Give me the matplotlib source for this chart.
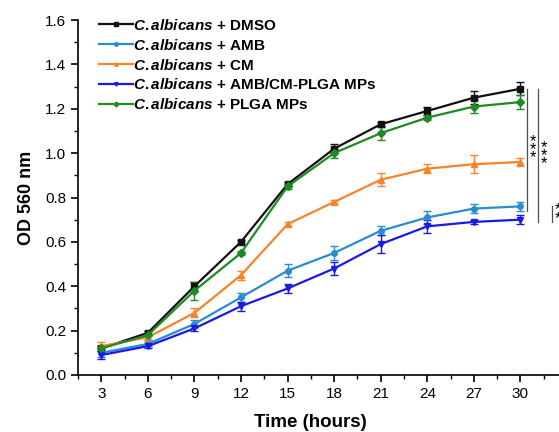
"""Growth curves of C. albicans under different treatments."""

import matplotlib

matplotlib.use("Agg")
import matplotlib.pyplot as plt
from matplotlib.lines import Line2D
from matplotlib.ticker import FormatStrFormatter, MultipleLocator

plt.rcParams["font.family"] = ["Liberation Sans", "DejaVu Sans"]
plt.rcParams["mathtext.fontset"] = "custom"
plt.rcParams["mathtext.it"] = "Liberation Sans:italic:bold"
plt.rcParams["mathtext.rm"] = "Liberation Sans:bold"

hours = [3, 6, 9, 12, 15, 18, 21, 24, 27, 30]

dmso = [0.12, 0.19, 0.40, 0.60, 0.86, 1.02, 1.13, 1.19, 1.25, 1.29]
amb = [0.10, 0.14, 0.23, 0.35, 0.47, 0.55, 0.65, 0.71, 0.75, 0.76]
cm = [0.13, 0.17, 0.28, 0.45, 0.68, 0.78, 0.88, 0.93, 0.95, 0.96]
amb_cm = [0.09, 0.13, 0.21, 0.31, 0.39, 0.48, 0.59, 0.67, 0.69, 0.70]
plga = [0.12, 0.18, 0.38, 0.55, 0.85, 1.00, 1.09, 1.16, 1.21, 1.23]

dmso_err = [0.01, 0.01, 0.02, 0.01, 0.01, 0.02, 0.01, 0.02, 0.03, 0.03]
amb_err = [0.02, 0.01, 0.02, 0.02, 0.03, 0.03, 0.02, 0.03, 0.02, 0.02]
cm_err = [0.02, 0.01, 0.02, 0.02, 0.01, 0.01, 0.03, 0.02, 0.04, 0.02]
amb_cm_err = [0.02, 0.01, 0.01, 0.02, 0.02, 0.03, 0.04, 0.03, 0.01, 0.02]
plga_err = [0.01, 0.02, 0.04, 0.01, 0.01, 0.02, 0.03, 0.01, 0.03, 0.03]

labels = [
    r"$\it{C{.}albicans}$ + DMSO",
    r"$\it{C{.}albicans}$ + AMB",
    r"$\it{C{.}albicans}$ + CM",
    r"$\it{C{.}albicans}$ + AMB/CM-PLGA MPs",
    r"$\it{C{.}albicans}$ + PLGA MPs",
]
series = [dmso, amb, cm, amb_cm, plga]
errors = [dmso_err, amb_err, cm_err, amb_cm_err, plga_err]
colors = ["#111111", "#2a8ccf", "#f7832a", "#1a1ae6", "#1f8a24"]
markers = ["s", "o", "^", "v", "D"]

# significance brackets: x position, y from, y to, stars
brackets = [(30.4, 1.29, 0.74, "***"), (31.15, 1.29, 0.69, "***"), (32.05, 0.76, 0.69, "**")]

fig = plt.figure(figsize=(5.59, 4.32), dpi=100)
ax = fig.add_axes([78 / 559, 57 / 432, 489 / 559, 355 / 432])

handles = []
for ys, err, color, marker, label in zip(series, errors, colors, markers, labels):
    ax.errorbar(
        hours,
        ys,
        yerr=err,
        color=color,
        marker=marker,
        markersize=4,
        linewidth=1.6,
        elinewidth=1.0,
        capsize=3,
        capthick=1.0,
    )
    handles.append(
        Line2D([], [], color=color, marker=marker, markersize=2.5, linewidth=1.6, label=label)
    )

for x, y0, y1, stars in brackets:
    ax.plot([x, x], [y0, y1], color="0.3", linewidth=0.9, clip_on=False)
    ax.text(
        x + 0.38,
        (y0 + y1) / 2,
        "\n".join(stars),
        ha="center",
        va="center",
        fontsize=12,
        linespacing=0.42,
        clip_on=False,
    )

ax.set_xlim(1.5, 33)
ax.set_ylim(0, 1.6)
ax.set_xticks(hours)
ax.xaxis.set_minor_locator(MultipleLocator(1.5))
ax.yaxis.set_major_locator(MultipleLocator(0.2))
ax.yaxis.set_minor_locator(MultipleLocator(0.1))
ax.yaxis.set_major_formatter(FormatStrFormatter("%.1f"))
ax.spines["top"].set_visible(False)
ax.spines["right"].set_visible(False)
ax.spines["left"].set_linewidth(1.2)
ax.spines["bottom"].set_linewidth(1.2)
ax.tick_params(which="major", direction="out", length=5, width=1.2, labelsize=11)
ax.tick_params(which="minor", direction="out", length=3, width=1.0)

ax.set_xlabel("Time (hours)", fontsize=13.5, fontweight="bold")
ax.set_ylabel("OD 560 nm", fontsize=13, fontweight="bold")
ax.xaxis.set_label_coords(0.476, -0.11)
ax.yaxis.set_label_coords(-0.088, 0.5)

leg = ax.legend(
    handles=handles,
    loc="upper left",
    bbox_to_anchor=(0.015, 1.045),
    frameon=False,
    fontsize=11,
    handlelength=2.2,
    handletextpad=0.0,
    labelspacing=0.32,
)
for text in leg.get_texts():
    text.set_fontweight("bold")

fig.savefig("out.png", dpi=100)
